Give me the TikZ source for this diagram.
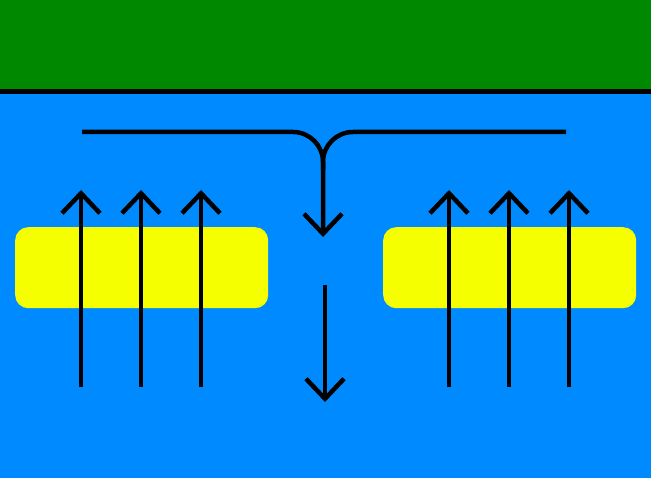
\documentclass[tikz,border=0pt]{standalone}
\usetikzlibrary{arrows.meta}
\definecolor{sea}{RGB}{0,138,255}
\definecolor{land}{RGB}{0,136,0}
\definecolor{slab}{RGB}{245,255,0}
\begin{document}
\begin{tikzpicture}[x=1pt,y=-1pt,
  flow/.style={line width=4.5pt,draw=black,-{Straight Barb[length=20pt,width=38pt,line cap=butt,line join=miter]}},
  plate/.style={fill=slab,draw=none,rounded corners=13pt}]
\useasboundingbox (0,0) rectangle (651,478);
\fill[sea] (0,0) rectangle (651,478);
\fill[land] (0,0) rectangle (651,91);
\draw[line width=5pt] (0,92) -- (651,92);
\node[plate,minimum width=253pt,minimum height=81pt,anchor=north west,inner sep=0pt] (pl) at (15,227) {};
\node[plate,minimum width=253pt,minimum height=81pt,anchor=north west,inner sep=0pt] (pr) at (383,227) {};
\foreach \x in {81,141,201,449,509,569}{
  \draw[flow] (\x,387) -- (\x,190);
}
\coordinate (la) at (82,132);
\coordinate (ra) at (566,132);
\coordinate (mid) at (323,132);
\coordinate (t1) at (323,237);
\coordinate (s2) at (325,285);
\coordinate (t2) at (325,402);
\draw[line width=4.5pt,rounded corners=30pt] (ra) -- (mid) -- (323,170);
\draw[flow,rounded corners=30pt] (la) -- (mid) -- (t1);
\draw[flow] (s2) -- (t2);
\end{tikzpicture}
\end{document}
